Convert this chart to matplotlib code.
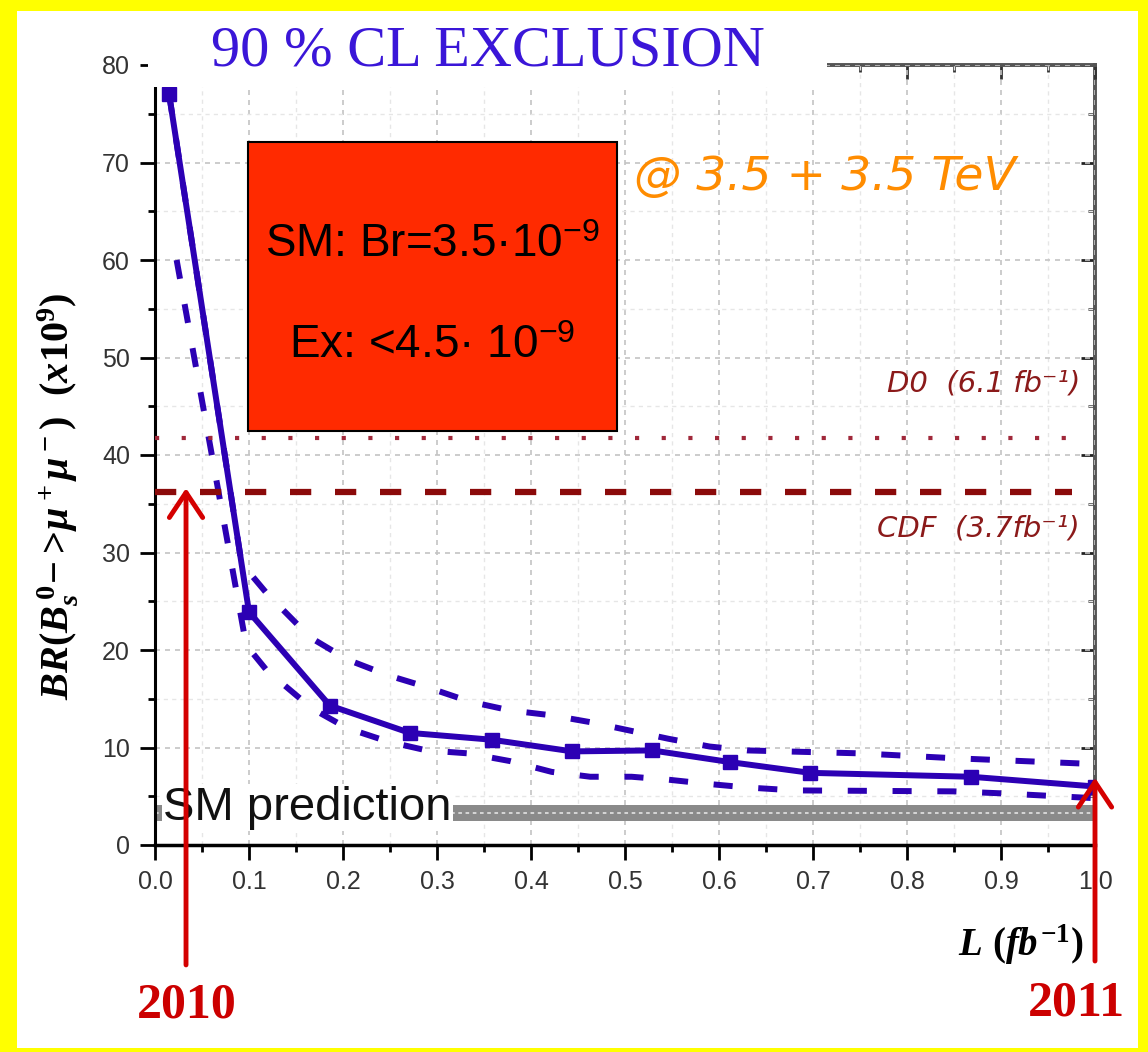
import numpy as np
import matplotlib
matplotlib.use("Agg")
import matplotlib.pyplot as plt
from matplotlib.patches import Rectangle

plt.rcParams['font.family'] = ['Liberation Sans', 'DejaVu Sans']
plt.rcParams['mathtext.fontset'] = 'custom'
plt.rcParams['mathtext.it'] = 'Liberation Serif:italic:bold'
plt.rcParams['mathtext.rm'] = 'Liberation Serif:bold'
plt.rcParams['mathtext.bf'] = 'Liberation Serif:bold'
plt.rcParams['mathtext.sf'] = 'Liberation Sans'

# expected 90% CL limit vs luminosity
L_main = [0.015, 0.100, 0.186, 0.271, 0.358, 0.444, 0.529, 0.612, 0.697, 0.868, 1.0]
BR_main = [77.0, 23.9, 14.3, 11.5, 10.8, 9.6, 9.7, 8.5, 7.4, 7.0, 6.0]

# upper / lower bands
L_up = [0.015, 0.092, 0.119, 0.165, 0.205, 0.248, 0.289, 0.335, 0.378, 0.422,
        0.463, 0.507, 0.546, 0.590, 0.630, 0.750, 0.850, 0.900, 1.0]
BR_up = [77.0, 28.9, 25.8, 21.3, 19.0, 17.4, 16.2, 14.7, 13.8, 13.3,
         12.6, 11.7, 10.9, 10.1, 9.7, 9.4, 8.9, 8.7, 8.3]
L_lo = [0.023, 0.097, 0.119, 0.167, 0.204, 0.248, 0.289, 0.333, 0.378, 0.422,
        0.463, 0.507, 0.546, 0.590, 0.630, 0.680, 0.850, 0.900, 1.0]
BR_lo = [60.0, 20.5, 17.9, 14.0, 12.0, 10.6, 9.7, 9.4, 8.6, 7.5,
         7.0, 7.0, 6.7, 6.25, 5.9, 5.6, 5.5, 5.3, 4.8]

D0_limit = 41.7
CDF_limit = 36.2
SM_low, SM_mid, SM_high = 2.5, 3.3, 4.1

W, H = 1148, 1052
def fx(x): return x / W
def fy(y): return 1 - y / H

fig = plt.figure(figsize=(W / 100, H / 100), dpi=100, facecolor='#ffff00')
fig.add_artist(Rectangle((fx(17), fy(1048)), fx(1138) - fx(17), fy(11) - fy(1048),
                         transform=fig.transFigure, facecolor='white', edgecolor='none', zorder=-10))

ax = fig.add_axes([fx(155), fy(845), fx(1095) - fx(155), fy(65) - fy(845)])
ax.set_xlim(0, 1.0)
ax.set_ylim(0, 80)

blue = '#2c00b4'
ax.plot(L_up, BR_up, color=blue, lw=4.3, ls=(0, (3.2, 4.3)), zorder=3)
ax.plot(L_lo, BR_lo, color=blue, lw=4.3, ls=(0, (3.2, 4.3)), zorder=3)
ax.plot(L_main, BR_main, color=blue, lw=4.3, marker='s', ms=10, zorder=4)

ax.plot([0, 0.976], [D0_limit, D0_limit], color='#a0283a', lw=3, ls=(0, (1, 5.4)), zorder=3)
ax.plot([0, 0.976], [CDF_limit, CDF_limit], color='#8b0a0a', lw=4.5, ls=(0, (3.4, 3.8)), zorder=3)

# SM band
ax.fill_between([0, 1.0], SM_low, SM_high, color='#8a8a8a', lw=0, zorder=2)
ax.plot([0, 1.0], [SM_mid, SM_mid], color='#dcdcdc', lw=1.3, ls=(0, (2, 2)), zorder=2)
ax.text(0.009, 2.6, 'SM prediction', fontsize=34, ha='left', va='baseline', color='#111111',
        zorder=4, bbox=dict(facecolor='white', edgecolor='none', pad=1))

ax.text(0.984, 47.3, 'D0  (6.1 fb⁻¹)', family='DejaVu Sans', style='italic', fontsize=21,
        color='#8b1a1a', ha='right', va='center', zorder=4)
ax.text(0.984, 32.5, 'CDF  (3.7fb⁻¹)', family='DejaVu Sans', style='italic', fontsize=21,
        color='#8b1a1a', ha='right', va='center', zorder=4)

# red box
ax.add_patch(Rectangle((0.099, 42.5), 0.392, 29.6, facecolor='#ff2a00', edgecolor='black',
                       lw=1.5, zorder=5))
ax.text(0.295, 61.5, 'SM: Br=3.5·10$^{\\mathsf{-9}}$', fontsize=33, ha='center', va='center', zorder=6)
ax.text(0.295, 51.2, 'Ex: <4.5· 10$^{\\mathsf{-9}}$', fontsize=33, ha='center', va='center', zorder=6)

# arrows
arrow = dict(arrowstyle='->,head_length=0.6,head_width=0.4', color='#d40000', lw=3.5,
             shrinkA=0, shrinkB=0, mutation_scale=30)
ax.annotate('', xy=(0.033, 36.6), xytext=(0.033, -12.3), arrowprops=arrow, annotation_clip=False, zorder=7)
ax.annotate('', xy=(1.0, 6.9), xytext=(1.0, -11.9), arrowprops=arrow, annotation_clip=False, zorder=7)

# axes styling
ax.set_xticks(np.arange(0, 1.01, 0.1))
ax.set_xticks(np.arange(0.05, 1.0, 0.1), minor=True)
ax.set_yticks(np.arange(0, 81, 10))
ax.set_yticks(np.arange(5, 80, 10), minor=True)
ax.set_xticklabels([f'{v:.1f}' for v in np.arange(0, 1.01, 0.1)])
ax.grid(which='major', color='#c4c4c4', ls=(0, (3, 3)), lw=1.2)
ax.grid(which='minor', color='#e6e6e6', ls=(0, (3, 3)), lw=1.0)
ax.set_axisbelow(True)
ax.tick_params(which='major', direction='out', length=11, width=2, labelsize=18,
               labelcolor='#333333', pad=7)
ax.tick_params(which='minor', direction='out', length=5, width=2)
for s in ['top', 'right']:
    ax.spines[s].set_visible(False)
ax.spines['left'].set_linewidth(2.2)
ax.spines['bottom'].set_linewidth(2.5)
ax.spines['left'].set_bounds(0, 77.7)

sec_y = ax.secondary_yaxis('right')
sec_y.set_yticks(np.arange(0, 81, 10))
sec_y.set_yticks(np.arange(5, 80, 10), minor=True)
sec_y.tick_params(which='major', direction='in', length=10, width=2, labelright=False, color='#222222')
sec_y.tick_params(which='minor', direction='in', length=5, width=2, color='#444444')
sec_y.spines['right'].set_color('#555555')
sec_y.spines['right'].set_linewidth(2.8)

sec_x = ax.secondary_xaxis('top')
sec_x.set_xticks(np.arange(0, 1.01, 0.1))
sec_x.set_xticks(np.arange(0.05, 1.0, 0.1), minor=True)
sec_x.tick_params(which='major', direction='in', length=10, width=2, labeltop=False, color='#333333')
sec_x.tick_params(which='minor', direction='in', length=5, width=2, color='#333333')
sec_x.spines['top'].set_color('#555555')
sec_x.spines['top'].set_linewidth(2.8)

# white patch behind the title hides top-left frame
fig.add_artist(Rectangle((fx(148), fy(87)), fx(827) - fx(148), fy(11) - fy(87),
                         transform=fig.transFigure, facecolor='white', edgecolor='none', zorder=1))
fig.text(fx(488), fy(52), '90 % CL EXCLUSION', family='Liberation Serif', fontsize=42,
         color='#3a16d8', ha='center', va='center', zorder=2)
fig.text(fx(825), fy(178), '@ 3.5 + 3.5 TeV', family='DejaVu Sans', style='italic', fontsize=34,
         color='#ff8c00', ha='center', va='center', zorder=2)

fig.text(fx(58), fy(496), r'$BR(B_s^{\,0}\!-\!>\!\mu^+\mu^-)\ \ (x10^9)$', rotation=90,
         fontsize=29, ha='center', va='center')
fig.text(fx(1021), fy(945), r'$L\ (fb^{-1})$', fontsize=28, ha='center', va='center')

fig.text(fx(187), fy(1006), '2010', family='Liberation Serif', weight='bold', fontsize=36,
         color='#cc0000', ha='center', va='center')
fig.text(fx(1076), fy(1003), '2011', family='Liberation Serif', weight='bold', fontsize=36,
         color='#cc0000', ha='center', va='center')

fig.savefig('out.png', dpi=100, facecolor=fig.get_facecolor())
